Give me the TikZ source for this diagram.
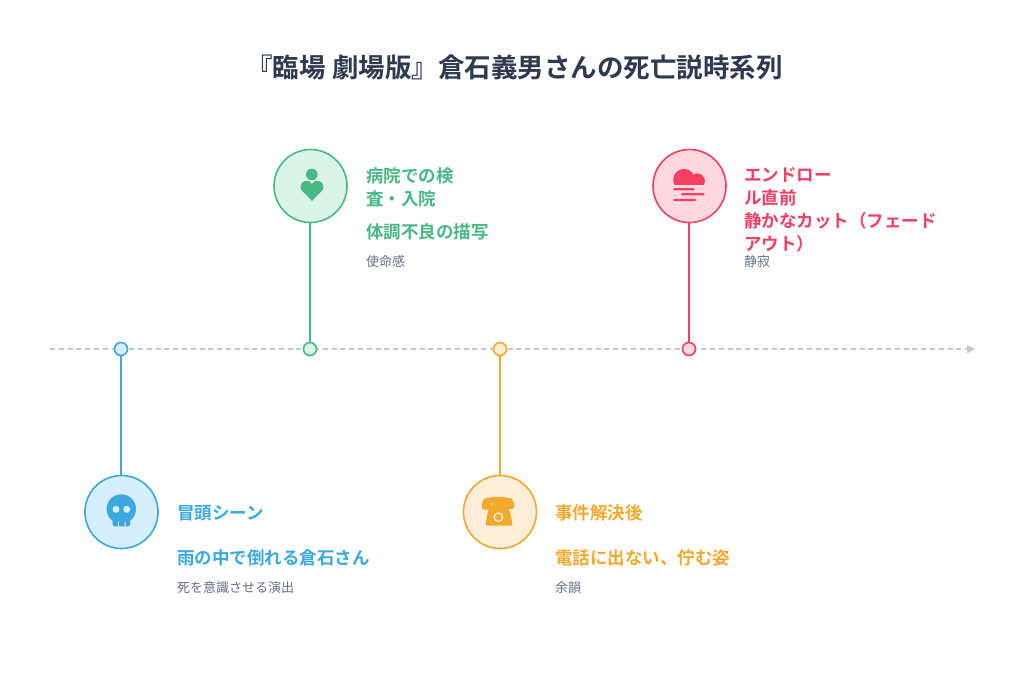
\documentclass[tikz,border=0pt]{standalone}
\usepackage{fontspec}
\setmainfont{Noto Sans CJK JP}[BoldFont=* Bold]
\usetikzlibrary{arrows.meta}
\definecolor{cblue}{HTML}{3AA9DE}\definecolor{fblue}{HTML}{D6EEFD}
\definecolor{cgreen}{HTML}{48B884}\definecolor{fgreen}{HTML}{DAF4EA}
\definecolor{corange}{HTML}{F5A82E}\definecolor{forange}{HTML}{FFEFD8}
\definecolor{cred}{HTML}{F43F63}\definecolor{fred}{HTML}{FFD8E0}
\definecolor{ctitle}{HTML}{2D3A50}\definecolor{csmall}{HTML}{64708A}
\definecolor{caxis}{HTML}{C2C8D2}
\tikzset{
 big/.style n args={2}{circle,draw=#1,fill=#2,line width=1.6pt,minimum size=73pt,inner sep=0pt},
 dot/.style n args={2}{circle,draw=#1,fill=#2,line width=1.6pt,minimum size=13pt,inner sep=0pt},
 head/.style={anchor=base west,inner sep=0pt,font=\fontsize{17.5}{23}\selectfont\bfseries,align=left},
 note/.style={anchor=base west,inner sep=0pt,text=csmall,font=\fontsize{13}{16}\selectfont},
 stem/.style={line width=1.7pt},
}
\begin{document}
\begin{tikzpicture}[x=1pt,y=-1pt]
\useasboundingbox[fill=white] (0,0) rectangle (1024,693);
\node[inner sep=0pt,text=ctitle,font=\fontsize{26.5}{30}\selectfont\bfseries] (title) at (514.5,67) {『臨場 劇場版』倉石義男さんの死亡説時系列};
\coordinate (axs) at (50,349.2); \coordinate (axe) at (975,349.2);
\draw[caxis,line width=1.6pt,dash pattern=on 5pt off 3.8pt] (axs) -- ([xshift=-8pt]axe);
\fill[caxis] (axe) -- ++(-8,-4.2) -- ++(0,8.4) -- cycle;

\node[big={cblue}{fblue}] (c1) at (121.5,512) {};
\node[big={cgreen}{fgreen}] (c2) at (310.5,186) {};
\node[big={corange}{forange}] (c3) at (500,512) {};
\node[big={cred}{fred}] (c4) at (689.5,186) {};
\node[dot={cblue}{fblue}] (d1) at (121,349) {};
\node[dot={cgreen}{fgreen}] (d2) at (310,349) {};
\node[dot={corange}{forange}] (d3) at (500,349) {};
\node[dot={cred}{fred}] (d4) at (689,349) {};
\draw[stem,cblue] (d1) -- (c1.north-|d1);
\draw[stem,cgreen] (d2) -- (c2.south-|d2);
\draw[stem,corange] (d3) -- (c3.north-|d3);
\draw[stem,cred] (d4) -- (c4.south-|d4);

% skull
\fill[cblue] (121.3,509) circle (14.7);
\fill[cblue,rounded corners=1.5pt] (112.7,514) -- (130,514) -- (130,526.3) -- (112.7,526.3) -- cycle;
\fill[fblue] (116,509.3) circle (3.5) (126.7,509.3) circle (3.5);
\fill[fblue] (117.8,521.6) rectangle (118.9,526.6) (124.6,521.6) rectangle (125.7,526.6);
% person + heart
\fill[cgreen] (311.8,174.5) circle (5.8);
\fill[cgreen] (306.6,186.8) circle (6) (317.4,186.8) circle (6);
\fill[cgreen] (301.8,190.4) -- (312,200.9) -- (322.2,190.4) -- (317.4,186.8) -- (312,188) -- (306.6,186.8) -- cycle;
% telephone
\fill[corange,rounded corners=2pt] (482,509.5) -- (482,501) .. controls (487,496) and (509,496) .. (514,501) -- (514,509) -- (505.3,509) -- (505.3,503) -- (491,503) -- (491,509.5) -- cycle;
\fill[corange,rounded corners=1.5pt] (492,503) -- (505,503) -- (505,506.5) .. controls (509.5,508) and (511.5,517) .. (512.5,525.7) -- (485.5,525.7) .. controls (486.5,517) and (488.5,508) .. (492,506.5) -- cycle;
\draw[forange,line width=1.4pt] (498.4,517.2) circle (4.2);
% cloud
\begin{scope}
\clip (670,165) rectangle (708,184.8);
\fill[cred] (684,179.7) circle (10.8);
\fill[cred] (697,181.2) circle (7.9);
\fill[cred] (680,178) rectangle (698,186);
\end{scope}
\fill[cred,rounded corners=1pt] (673.2,188.2) rectangle (694.5,190.4);
\fill[cred,rounded corners=1pt] (681,193.2) rectangle (704.5,195.4);
\fill[cred,rounded corners=1pt] (673.2,198.8) rectangle (696,201);

\node[head,text=cblue] (t1) at (177,519) {冒頭シーン};
\node[head,text=cblue] (s1) at (177,564) {雨の中で倒れる倉石さん};
\node[note] (n1) at (177,592) {死を意識させる演出};
\node[head,text=cgreen] (t2a) at (366,182) {病院での検};
\node[head,text=cgreen] (t2b) at (366,205) {査・入院};
\node[head,text=cgreen] (s2) at (366,238) {体調不良の描写};
\node[note] (n2) at (366,266) {使命感};
\node[head,text=corange] (t3) at (555,519) {事件解決後};
\node[head,text=corange] (s3) at (555,564) {電話に出ない、佇む姿};
\node[note] (n3) at (555,592) {余韻};
\node[head,text=cred] (t4a) at (744,181) {エンドロー};
\node[head,text=cred] (t4b) at (744,204) {ル直前};
\node[head,text=cred] (s4a) at (744,227) {静かなカット（フェード};
\node[head,text=cred] (s4b) at (744,250) {アウト）};
\node[note] (n4) at (744,266) {静寂};
\end{tikzpicture}
\end{document}
